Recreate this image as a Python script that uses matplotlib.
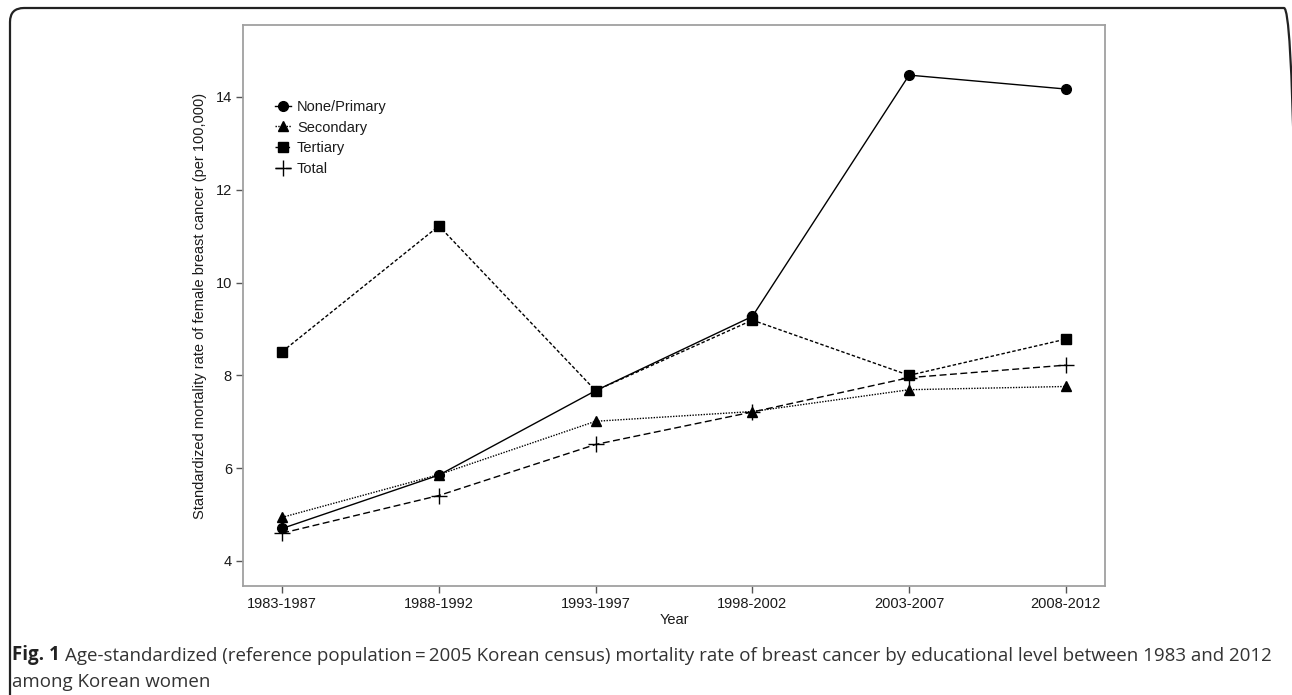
import matplotlib
matplotlib.use("Agg")
import matplotlib.pyplot as plt
from matplotlib.patches import FancyBboxPatch

# Age-standardized mortality rates (per 100,000) by educational level
periods = ["1983-1987", "1988-1992", "1993-1997", "1998-2002", "2003-2007", "2008-2012"]
none_primary = [4.70, 5.85, 7.67, 9.27, 14.47, 14.17]
secondary = [4.94, 5.86, 7.01, 7.22, 7.69, 7.76]
tertiary = [8.51, 11.22, 7.67, 9.19, 8.00, 8.78]
total = [4.60, 5.41, 6.51, 7.21, 7.95, 8.22]
y_ticks = [4, 6, 8, 10, 12, 14]

W, H = 1292, 695
fig = plt.figure(figsize=(W / 100, H / 100), dpi=100)
plt.rcParams["font.family"] = ["Liberation Sans", "DejaVu Sans"]

ax = fig.add_axes([243 / W, (H - 586) / H, 862 / W, 561 / H])
x = list(range(len(periods)))

ax.plot(x, none_primary, color="black", lw=1.0, ls="-",
        marker="o", ms=7, label="None/Primary")
ax.plot(x, secondary, color="black", lw=1.0, ls=(0, (1, 1)),
        marker="^", ms=7.5, label="Secondary")
ax.plot(x, tertiary, color="black", lw=1.0, ls=(0, (2.5, 1.5)),
        marker="s", ms=6.5, label="Tertiary")
ax.plot(x, total, color="black", lw=1.0, ls=(0, (5, 2.5)),
        marker="+", ms=11, mew=1.0, label="Total")

ax.set_xlim(-0.25, 5.25)
ax.set_ylim(3.46, 15.55)
ax.set_xticks(x)
ax.set_xticklabels(periods)
ax.set_yticks(y_ticks)
ax.set_yticklabels([str(v) for v in y_ticks])

spine_color = "#a0a0a0"
for s in ax.spines.values():
    s.set_color(spine_color)
    s.set_linewidth(1.3)
ax.tick_params(axis="both", direction="out", length=5, width=1.0,
               color="#555555", labelsize=10.5, labelcolor="#1a1a1a", pad=3)

ax.set_xlabel("Year", fontsize=10.5, color="#1a1a1a", labelpad=1)
ax.set_ylabel("Standardized mortality rate of female breast cancer (per 100,000)",
              fontsize=10.5, color="#1a1a1a", labelpad=6)

leg = ax.legend(loc="upper left", bbox_to_anchor=(275 / W, (H - 100) / H),
                bbox_transform=fig.transFigure, frameon=False, fontsize=10.5,
                handlelength=1.1, handletextpad=0.4, labelspacing=0.45,
                borderpad=0, borderaxespad=0)
for t in leg.get_texts():
    t.set_color("#1a1a1a")

# Rounded frame around the figure panel (pixel coordinates)
frame = FancyBboxPatch((10, -20), 1288, H - 8 + 20,
                       boxstyle="round,pad=0,rounding_size=14",
                       transform=None, facecolor="none",
                       edgecolor="#222222", lw=1.6, clip_on=False)
fig.patches.append(frame)

# Caption
cap_size = 13.5
cap_font = ["Open Sans", "DejaVu Sans"]
t1 = fig.text(12 / W, (H - 660) / H, "Fig. 1", fontsize=cap_size, fontweight="bold",
              family=cap_font, color="#222222", va="baseline", ha="left")
ax.annotate("Age-standardized (reference population\u2009=\u20092005 Korean census) mortality rate "
            "of breast cancer by educational level between 1983 and 2012",
            xy=(1, 0), xycoords=t1, xytext=(4, 0), textcoords="offset points",
            fontsize=cap_size, family=cap_font, color="#333333", va="bottom", ha="left",
            annotation_clip=False)
fig.text(12 / W, (H - 687) / H, "among Korean women", fontsize=cap_size,
         family=cap_font, color="#333333", va="baseline", ha="left")

fig.savefig("out.png", dpi=100)
